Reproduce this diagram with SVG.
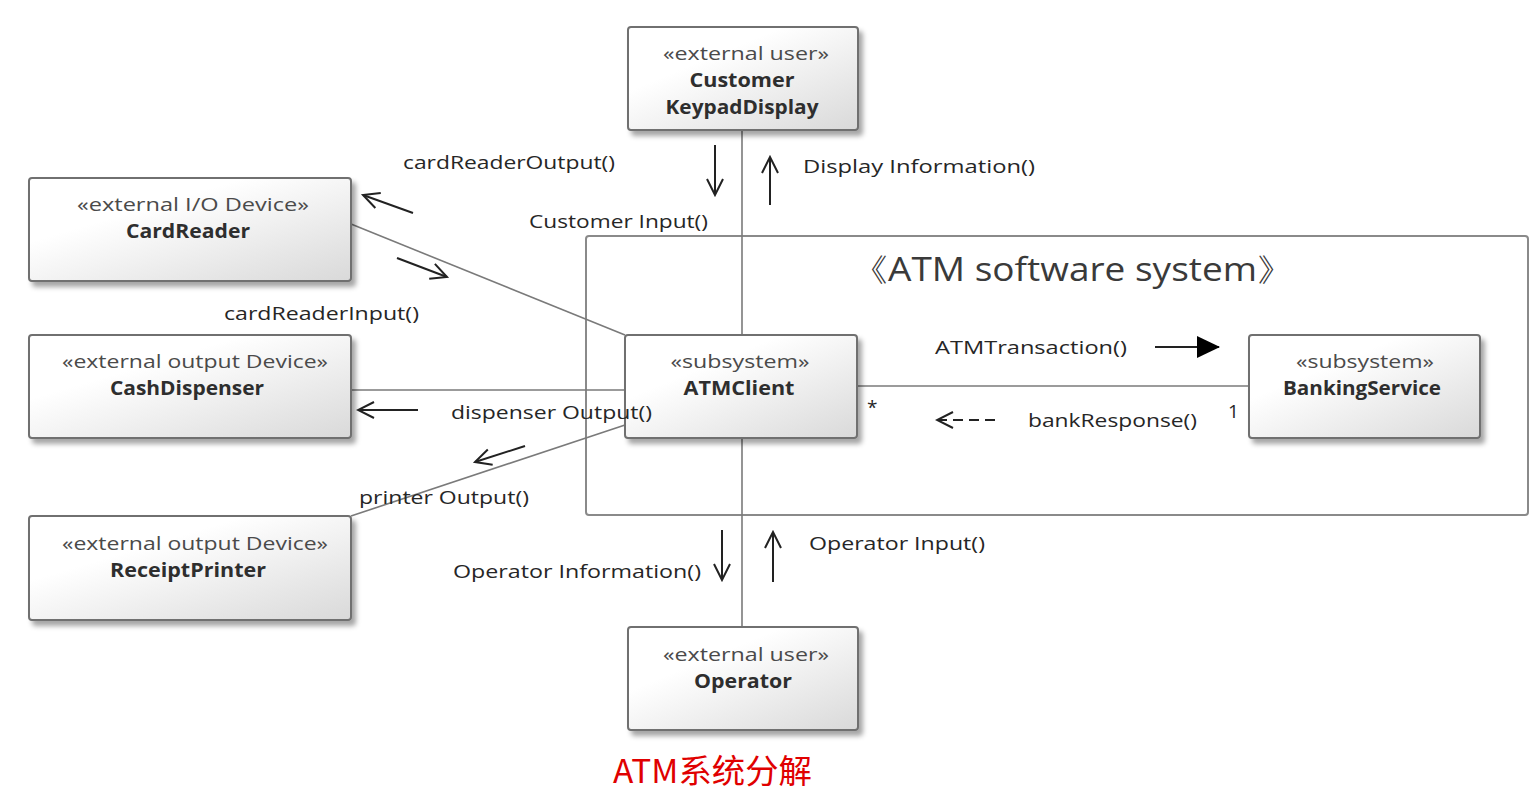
<svg xmlns="http://www.w3.org/2000/svg" width="1538" height="799" viewBox="0 0 1538 799">
<defs>
<linearGradient id="g" x1="0.35" y1="0.3" x2="1" y2="1">
<stop offset="0" stop-color="#ffffff"/>
<stop offset="1" stop-color="#d9d9d9"/>
</linearGradient>
<filter id="sh" x="-10%" y="-10%" width="130%" height="140%">
<feDropShadow dx="4" dy="5" stdDeviation="2.5" flood-color="#000" flood-opacity="0.35"/>
</filter>
<marker id="open" viewBox="0 0 20 20" refX="18" refY="10" markerWidth="20" markerHeight="20" markerUnits="userSpaceOnUse" orient="auto">
<path d="M2,2 L18,10 L2,18" fill="none" stroke="#222" stroke-width="2"/>
</marker>
<marker id="filled" viewBox="0 0 24 24" refX="22" refY="12" markerWidth="24" markerHeight="24" markerUnits="userSpaceOnUse" orient="auto">
<path d="M0,1 L23,12 L0,23 Z" fill="#000"/>
</marker>
</defs>
<style>
.box{fill:url(#g);stroke:#707070;stroke-width:2;filter:url(#sh)}
.st{font-family:"Open Sans","Noto Sans",sans-serif;font-size:19px;fill:#4a4a4a;text-anchor:middle}
.nm{font-family:"Open Sans","Noto Sans",sans-serif;font-size:19px;font-weight:bold;fill:#2e2e2e;text-anchor:middle}
.lbl{font-family:"Open Sans","Noto Sans",sans-serif;font-size:19px;fill:#262626}
.ln{stroke:#7a7a7a;stroke-width:1.6;fill:none}
.ar{stroke:#222;stroke-width:2;fill:none}
</style>
<rect width="1538" height="799" fill="#fff"/>

<g id="system">
<rect x="586" y="236" width="942" height="279" rx="3" fill="#fff" stroke="#8a8a8a" stroke-width="2"/>
<text x="851" y="281" font-family="'Open Sans','Noto Sans',sans-serif" font-size="32" fill="#3a3a3a" textLength="443" lengthAdjust="spacingAndGlyphs">《ATM software system》</text>
</g>

<g id="connectors">
<line class="ln" x1="742" y1="130" x2="742" y2="335"/>
<line class="ln" x1="742" y1="438" x2="742" y2="627"/>
<line class="ln" x1="351" y1="390" x2="625" y2="390"/>
<line class="ln" x1="351" y1="224" x2="625" y2="335"/>
<line class="ln" x1="625" y1="425" x2="351" y2="516"/>
<line class="ln" x1="857" y1="386" x2="1249" y2="386"/>
<line class="ar" x1="413" y1="213" x2="363" y2="195" marker-end="url(#open)"/>
<line class="ar" x1="397" y1="258" x2="447" y2="277" marker-end="url(#open)"/>
<line class="ar" x1="715" y1="145" x2="715" y2="195" marker-end="url(#open)"/>
<line class="ar" x1="770" y1="205" x2="770" y2="157" marker-end="url(#open)"/>
<line class="ar" x1="418" y1="410" x2="358" y2="410" marker-end="url(#open)"/>
<line class="ar" x1="525" y1="446" x2="475" y2="462" marker-end="url(#open)"/>
<line class="ar" x1="1155" y1="347" x2="1219" y2="347" marker-end="url(#filled)"/>
<line class="ar" x1="995" y1="420" x2="937" y2="420" stroke-dasharray="10,6" marker-end="url(#open)"/>
<line class="ar" x1="722" y1="530" x2="722" y2="580" marker-end="url(#open)"/>
<line class="ar" x1="773" y1="582" x2="773" y2="532" marker-end="url(#open)"/>
</g>

<g id="customer">
<rect class="box" x="628" y="27" width="230" height="103" rx="3"/>
<text class="st" x="746" y="60" textLength="166" lengthAdjust="spacingAndGlyphs">«external user»</text>
<text class="nm" x="742" y="87" textLength="105" lengthAdjust="spacingAndGlyphs">Customer</text>
<text class="nm" x="742" y="114" textLength="153" lengthAdjust="spacingAndGlyphs">KeypadDisplay</text>
</g>
<g id="cardreader">
<rect class="box" x="29" y="178" width="322" height="103" rx="3"/>
<text class="st" x="193" y="211" textLength="232" lengthAdjust="spacingAndGlyphs">«external I/O Device»</text>
<text class="nm" x="188" y="238" textLength="124" lengthAdjust="spacingAndGlyphs">CardReader</text>
</g>
<g id="cashdispenser">
<rect class="box" x="29" y="335" width="322" height="103" rx="3"/>
<text class="st" x="195" y="368" textLength="266" lengthAdjust="spacingAndGlyphs">«external output Device»</text>
<text class="nm" x="187" y="395" textLength="154" lengthAdjust="spacingAndGlyphs">CashDispenser</text>
</g>
<g id="receiptprinter">
<rect class="box" x="29" y="516" width="322" height="104" rx="3"/>
<text class="st" x="195" y="550" textLength="266" lengthAdjust="spacingAndGlyphs">«external output Device»</text>
<text class="nm" x="188" y="577" textLength="156" lengthAdjust="spacingAndGlyphs">ReceiptPrinter</text>
</g>
<g id="atmclient">
<rect class="box" x="625" y="335" width="232" height="103" rx="3"/>
<text class="st" x="740" y="368" textLength="139" lengthAdjust="spacingAndGlyphs">«subsystem»</text>
<text class="nm" x="739" y="395" textLength="111" lengthAdjust="spacingAndGlyphs">ATMClient</text>
</g>
<g id="bankingservice">
<rect class="box" x="1249" y="335" width="231" height="103" rx="3"/>
<text class="st" x="1365" y="368" textLength="138" lengthAdjust="spacingAndGlyphs">«subsystem»</text>
<text class="nm" x="1362" y="395" textLength="158" lengthAdjust="spacingAndGlyphs">BankingService</text>
</g>
<g id="operator">
<rect class="box" x="628" y="627" width="230" height="103" rx="3"/>
<text class="st" x="746" y="661" textLength="166" lengthAdjust="spacingAndGlyphs">«external user»</text>
<text class="nm" x="743" y="688" textLength="98" lengthAdjust="spacingAndGlyphs">Operator</text>
</g>

<g id="connector-labels">
<text class="lbl" x="403" y="169" textLength="212" lengthAdjust="spacingAndGlyphs">cardReaderOutput()</text>
<text class="lbl" x="803" y="173" textLength="232" lengthAdjust="spacingAndGlyphs">Display Information()</text>
<text class="lbl" x="529" y="228" textLength="179" lengthAdjust="spacingAndGlyphs">Customer Input()</text>
<text class="lbl" x="224" y="320" textLength="195" lengthAdjust="spacingAndGlyphs">cardReaderInput()</text>
<text class="lbl" x="451" y="419" textLength="201" lengthAdjust="spacingAndGlyphs">dispenser Output()</text>
<text class="lbl" x="359" y="504" textLength="170" lengthAdjust="spacingAndGlyphs">printer Output()</text>
<text class="lbl" x="935" y="354" textLength="192" lengthAdjust="spacingAndGlyphs">ATMTransaction()</text>
<text class="lbl" x="1028" y="427" textLength="169" lengthAdjust="spacingAndGlyphs">bankResponse()</text>
<text class="lbl" x="867" y="414">*</text>
<text class="lbl" x="1228" y="418" font-size="16">1</text>
<text class="lbl" x="809" y="550" textLength="176" lengthAdjust="spacingAndGlyphs">Operator Input()</text>
<text class="lbl" x="453" y="578" textLength="248" lengthAdjust="spacingAndGlyphs">Operator Information()</text>
</g>

<text x="613" y="783" font-family="'Noto Sans CJK SC',sans-serif" font-size="33" fill="#e00000" textLength="199" lengthAdjust="spacingAndGlyphs">ATM系统分解</text>
</svg>
